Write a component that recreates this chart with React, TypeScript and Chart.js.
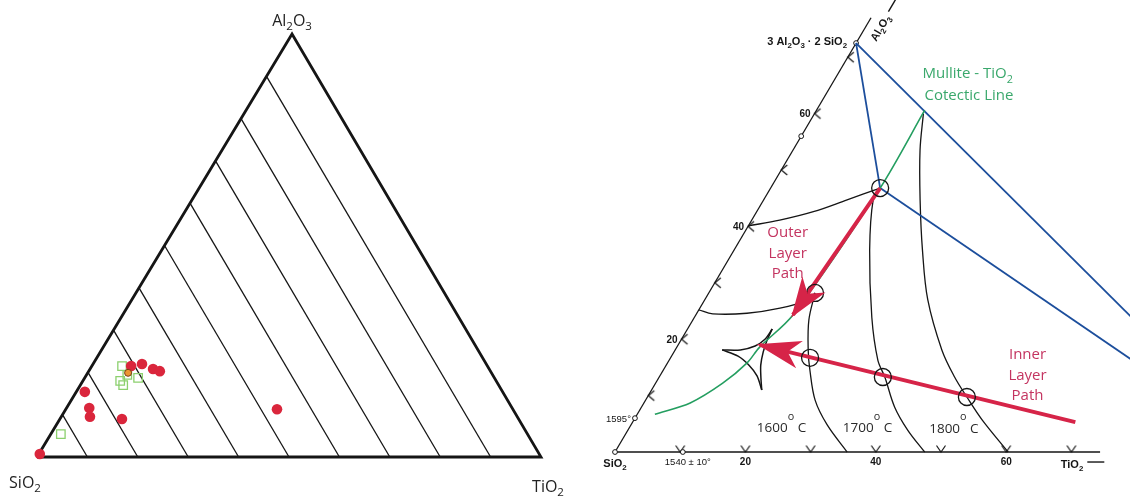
import React, { useEffect, useRef } from "react";
import { Chart, registerables } from "chart.js";

Chart.register(...registerables);

// ================= LEFT: SiO2 – TiO2 – Al2O3 ternary (wt%) =================
const LEFT_SKEW = 0.506;
const outlineAl2O3 = [0, 0, 100, 0];
const outlineTiO2 = [0, 100, 0, 0];
const hatchSiO2Levels = [90, 80, 70, 60, 50, 40, 30, 20, 10];
const redAl2O3 = [0.7, 15.4, 11.6, 9.5, 9.0, 11.3, 21.5, 22.0, 20.8, 20.3];
const redTiO2 = [0.2, 1.7, 4.5, 5.7, 12.3, 41.9, 7.8, 9.7, 12.5, 14.1];
const greenAl2O3 = [5.4, 21.5, 18.0, 17.0, 18.7, 19.4];
const greenTiO2 = [2.0, 6.0, 7.4, 8.5, 10.6, 8.1];
const orangeAl2O3 = [19.9];
const orangeTiO2 = [8.0];

// ================= RIGHT: Al2O3–SiO2–TiO2 phase diagram =================
const RIGHT_SKEW = 0.51;
const leftEdgeAl2O3 = [0, 77];
const leftEdgeTiO2 = [0, 0];
const baseEdgeAl2O3 = [0, 0];
const baseEdgeTiO2 = [0, 74.4];
const tickLevels = [10, 20, 30, 40, 50, 60, 70];
const tickLabelLevels = [20, 40, 60];
const tickLabels = ["20", "40", "60"];
const markerAl2O3 = [0, 0, 6, 56, 72.5];
const markerTiO2 = [0, 10.4, 0, 0, 0];

const joinMulliteTiO2Al2O3 = [72.5, 0];
const joinMulliteTiO2TiO2 = [0, 100];
const joinMullitePtAl2O3 = [72.5, 46.8];
const joinMullitePtTiO2 = [0, 16.8];
const joinPtTiO2Al2O3 = [46.8, 0];
const joinPtTiO2TiO2 = [16.8, 100];

const cotecticAl2O3 = [60.6, 46.8, 24.3, 18.6, 15.8, 12.2, 8.7, 6.7];
const cotecticTiO2 = [16.6, 16.8, 14.9, 12.7, 12.2, 10.3, 7.1, 2.7];

const boundaryUpperAl2O3 = [40.1, 41.1, 42.6, 44.7, 46.8];
const boundaryUpperTiO2 = [0, 4.3, 8.7, 12.8, 16.8];
const boundaryLowerAl2O3 = [25.2, 24.5, 24.6, 25.5, 26.9, 28.2];
const boundaryLowerTiO2 = [0, 2.5, 7.7, 12.3, 15.7, 16.3];

const iso1600Al2O3 = [28.2, 23.4, 18.1, 14.5, 9.2, 4.8, 0];
const iso1600TiO2 = [16.3, 17.8, 20.4, 22.5, 26.0, 30.1, 35.6];
const iso1700Al2O3 = [46.8, 44.7, 35.8, 23.9, 16.3, 13.3, 8.0, 3.9, 0];
const iso1700TiO2 = [16.8, 16.8, 20.8, 27.2, 32.0, 34.6, 38.8, 42.9, 47.5];
const iso1800Al2O3 = [60.0, 53.5, 44.7, 35.8, 27.0, 18.1, 13.3, 9.75, 5.7, 0];
const iso1800TiO2 = [16.7, 19.5, 24.0, 28.9, 34.2, 40.9, 45.3, 49.0, 53.4, 60.3];

const cuspUpperAl2O3 = [18.1, 18.1, 18.8, 20.0, 21.8];
const cuspUpperTiO2 = [7.2, 10.0, 11.9, 12.8, 13.0];
const cuspRightAl2O3 = [21.8, 19.9, 17.7, 15.4, 13.1, 11.0];
const cuspRightTiO2 = [13.0, 13.2, 13.7, 14.5, 15.7, 16.9];
const cuspLowerAl2O3 = [18.1, 17.0, 15.4, 13.5, 11.0];
const cuspLowerTiO2 = [7.2, 10.2, 12.7, 14.9, 16.9];

const outerPathAl2O3 = [46.8, 24.3];
const outerPathTiO2 = [16.8, 14.9];
const innerPathAl2O3 = [5.3, 19.0];
const innerPathTiO2 = [67.9, 12.5];

const circledAl2O3 = [46.8, 28.2, 16.7, 13.3, 9.75];
const circledTiO2 = [16.8, 16.3, 21.4, 34.3, 49.0];

const isoLabels = ["1600", "1700", "1800"];
const isoLabelAl2O3 = [4.4, 4.4, 4.3];
const isoLabelTiO2 = [19.5, 32.7, 46.0];

const outerLabelLines = ["Outer", "Layer", "Path"];
const outerLabelAt = [39.0, 6.6];
const innerLabelLines = ["Inner", "Layer", "Path"];
const innerLabelAt = [17.4, 54.4];
const cotecticLabelAt = [67.2, 12.9];

// ---------------------------------------------------------------------------
const RED = "rgb(218,38,60)";
const CRIMSON = "rgb(214,36,72)";
const PATH_TEXT = "rgb(196,52,96)";
const BLUE = "rgb(28,78,156)";
const GREEN = "rgb(36,158,96)";
const GREEN_TEXT = "rgb(58,168,108)";
const INK = "#151515";

const toXY = (skew: number, al: number[], ti: number[]) =>
  al.map((a, i) => ({ x: ti[i] + skew * a, y: a }));

type Seg = [string, ("sub" | "sup")?];
function rich(
  ctx: CanvasRenderingContext2D,
  segs: Seg[],
  x: number,
  cy: number,
  o: { size: number; family: string; weight?: string; color: string; align?: "left" | "center" | "right" }
) {
  const weight = o.weight || "normal";
  const fontOf = (k?: string) =>
    `${weight} ${k === "sub" ? o.size * 0.72 : k === "sup" ? o.size * 0.8 : o.size}px ${o.family}`;
  let w = 0;
  for (const [t, k] of segs) {
    ctx.font = fontOf(k);
    w += ctx.measureText(t).width;
  }
  const align = o.align || "center";
  let x0 = align === "left" ? x : align === "right" ? x - w : x - w / 2;
  const base = cy + o.size * 0.36;
  ctx.fillStyle = o.color;
  ctx.textAlign = "left";
  ctx.textBaseline = "alphabetic";
  for (const [t, k] of segs) {
    ctx.font = fontOf(k);
    const dy = k === "sub" ? o.size * 0.28 : k === "sup" ? -o.size * 0.9 : 0;
    ctx.fillText(t, x0, base + dy);
    x0 += ctx.measureText(t).width;
  }
  return w;
}

const SANS = "'Open Sans', 'Noto Sans', sans-serif";
const HAND = "'Liberation Sans', Arial, sans-serif";

function chevron(kind: "left" | "down") {
  const c = document.createElement("canvas");
  c.width = 16;
  c.height = 16;
  const g = c.getContext("2d")!;
  g.strokeStyle = INK;
  g.lineWidth = 1.2;
  g.beginPath();
  if (kind === "left") {
    g.moveTo(14, 3);
    g.lineTo(8, 8);
    g.lineTo(14, 13);
  } else {
    g.moveTo(3.5, 1.5);
    g.lineTo(8, 8);
    g.lineTo(12.5, 1.5);
  }
  g.stroke();
  return c;
}

const lineDs = (data: any[], color: string, width: number, tension = 0, extra: any = {}) => ({
  data,
  showLine: true,
  borderColor: color,
  borderWidth: width,
  pointRadius: 0,
  tension,
  fill: false,
  clip: false,
  ...extra,
});

const baseOptions = (xmin: number, xmax: number, ymin: number, ymax: number) => ({
  animation: false,
  responsive: false,
  events: [],
  layout: { padding: 0, autoPadding: false },
  plugins: { legend: { display: false }, tooltip: { enabled: false } },
  scales: {
    x: { type: "linear", display: false, min: xmin, max: xmax },
    y: { type: "linear", display: false, min: ymin, max: ymax },
  },
});

function leftConfig(): any {
  const datasets: any[] = [];
  datasets.push({
    data: toXY(LEFT_SKEW, orangeAl2O3, orangeTiO2),
    pointStyle: "circle",
    pointRadius: 3.5,
    backgroundColor: "rgb(236,150,50)",
    borderColor: "rgb(120,60,20)",
    borderWidth: 1,
    clip: false,
  });
  datasets.push({
    data: toXY(LEFT_SKEW, redAl2O3, redTiO2),
    pointStyle: "circle",
    pointRadius: 5.3,
    backgroundColor: RED,
    borderColor: RED,
    borderWidth: 0,
    clip: false,
  });
  datasets.push({
    data: toXY(LEFT_SKEW, greenAl2O3, greenTiO2),
    pointStyle: "rect",
    pointRadius: 6,
    backgroundColor: "rgba(255,255,255,0)",
    borderColor: "rgb(140,208,110)",
    borderWidth: 1.3,
    clip: false,
  });
  datasets.push(
    lineDs(toXY(LEFT_SKEW, outlineAl2O3, outlineTiO2), INK, 2.8, 0, { borderJoinStyle: "miter" })
  );
  for (const s of hatchSiO2Levels) {
    datasets.push(lineDs(toXY(LEFT_SKEW, [0, 100 - s], [100 - s, 0]), INK, 1.3));
  }
  const plugin = {
    id: "leftLabels",
    afterDatasetsDraw(chart: any) {
      const ctx = chart.ctx as CanvasRenderingContext2D;
      const xs = chart.scales.x, ys = chart.scales.y;
      const P = (al: number, ti: number) => ({
        x: xs.getPixelForValue(ti + LEFT_SKEW * al),
        y: ys.getPixelForValue(al),
      });
      ctx.save();
      const opt = { size: 16, family: SANS, color: "#222" };
      const top = P(100, 0), si = P(0, 0), ti = P(0, 100);
      rich(ctx, [["Al"], ["2", "sub"], ["O"], ["3", "sub"]], top.x, top.y - 14, opt);
      rich(ctx, [["SiO"], ["2", "sub"]], si.x - 12, si.y + 25, opt);
      rich(ctx, [["TiO"], ["2", "sub"]], ti.x + 7, ti.y + 29, opt);
      ctx.restore();
    },
  };
  return {
    type: "scatter",
    data: { datasets },
    options: baseOptions(-7.34, 104.76, -9.93, 108.04),
    plugins: [plugin],
  };
}

function arrowHead(ctx: CanvasRenderingContext2D, from: any, tip: any, len: number, half: number) {
  const dx = tip.x - from.x, dy = tip.y - from.y;
  const d = Math.hypot(dx, dy);
  const ux = dx / d, uy = dy / d;
  const tx = tip.x + ux * 3, ty = tip.y + uy * 3;
  const bx = tx - ux * len, by = ty - uy * len;
  const nx = -uy, ny = ux;
  const mx = tx - ux * len * 0.72, my = ty - uy * len * 0.72;
  ctx.beginPath();
  ctx.moveTo(tx, ty);
  ctx.lineTo(bx + nx * half, by + ny * half);
  ctx.lineTo(mx, my);
  ctx.lineTo(bx - nx * half, by - ny * half);
  ctx.closePath();
  ctx.fillStyle = CRIMSON;
  ctx.fill();
}

function rightConfig(): any {
  const chevLeft = chevron("left");
  const chevDown = chevron("down");
  const R = (al: number[], ti: number[]) => toXY(RIGHT_SKEW, al, ti);
  const datasets: any[] = [];
  // top-most first
  datasets.push({
    data: R(circledAl2O3, circledTiO2),
    pointStyle: "circle",
    pointRadius: 8.5,
    backgroundColor: "rgba(0,0,0,0)",
    borderColor: INK,
    borderWidth: 1.3,
    clip: false,
  });
  datasets.push(lineDs(R(innerPathAl2O3, innerPathTiO2), CRIMSON, 4));
  datasets.push(lineDs(R(outerPathAl2O3, outerPathTiO2), CRIMSON, 4));
  datasets.push(lineDs(R(cotecticAl2O3, cotecticTiO2), GREEN, 1.6, 0.3));
  datasets.push(lineDs(R(joinMulliteTiO2Al2O3, joinMulliteTiO2TiO2), BLUE, 1.8));
  datasets.push(lineDs(R(joinMullitePtAl2O3, joinMullitePtTiO2), BLUE, 1.8));
  datasets.push(lineDs(R(joinPtTiO2Al2O3, joinPtTiO2TiO2), BLUE, 1.8));
  datasets.push(lineDs(R(boundaryUpperAl2O3, boundaryUpperTiO2), INK, 1.3, 0.35));
  datasets.push(lineDs(R(boundaryLowerAl2O3, boundaryLowerTiO2), INK, 1.3, 0.35));
  datasets.push(lineDs(R(iso1600Al2O3, iso1600TiO2), INK, 1.3, 0.35));
  datasets.push(lineDs(R(iso1700Al2O3, iso1700TiO2), INK, 1.3, 0.35));
  datasets.push(lineDs(R(iso1800Al2O3, iso1800TiO2), INK, 1.3, 0.35));
  datasets.push(lineDs(R(cuspUpperAl2O3, cuspUpperTiO2), INK, 1.5, 0.3));
  datasets.push(lineDs(R(cuspRightAl2O3, cuspRightTiO2), INK, 1.5, 0.3));
  datasets.push(lineDs(R(cuspLowerAl2O3, cuspLowerTiO2), INK, 1.5, 0.3));
  datasets.push({
    data: R(markerAl2O3, markerTiO2),
    pointStyle: "circle",
    pointRadius: 2.4,
    backgroundColor: "#fff",
    borderColor: INK,
    borderWidth: 1,
    clip: false,
  });
  datasets.push({
    data: R(tickLevels, tickLevels.map(() => 0)),
    pointStyle: chevLeft,
    pointRadius: 3,
    clip: false,
  });
  datasets.push({
    data: R(tickLevels.map(() => 0), tickLevels),
    pointStyle: chevDown,
    pointRadius: 3,
    clip: false,
  });
  datasets.push(lineDs(R(leftEdgeAl2O3, leftEdgeTiO2), INK, 1.3));
  datasets.push(lineDs(R(baseEdgeAl2O3, baseEdgeTiO2), INK, 1.5));

  const plugin = {
    id: "rightOverlay",
    afterDatasetsDraw(chart: any) {
      const ctx = chart.ctx as CanvasRenderingContext2D;
      const xs = chart.scales.x, ys = chart.scales.y;
      const P = (al: number, ti: number) => ({
        x: xs.getPixelForValue(ti + RIGHT_SKEW * al),
        y: ys.getPixelForValue(al),
      });
      ctx.save();
      // arrowheads
      arrowHead(ctx, P(outerPathAl2O3[0], outerPathTiO2[0]), P(outerPathAl2O3[1], outerPathTiO2[1]), 40, 14);
      arrowHead(ctx, P(innerPathAl2O3[0], innerPathTiO2[0]), P(innerPathAl2O3[1], innerPathTiO2[1]), 44, 14);

      const axisFont = { size: 10.5, family: HAND, weight: "bold", color: INK };
      // base axis labels
      tickLabelLevels.forEach((v, i) => {
        const p = P(0, v);
        rich(ctx, [[tickLabels[i]]], p.x, p.y + 9.5, { ...axisFont, size: 10 });
      });
      const sp = P(0, 0);
      rich(ctx, [["SiO"], ["2", "sub"]], sp.x, sp.y + 11, { ...axisFont, size: 11 });
      const ep = P(0, markerTiO2[1]);
      rich(ctx, [["1540 ± 10°"]], ep.x + 5, ep.y + 9.5, { ...axisFont, size: 9.5, weight: "normal" });
      const tp = P(0, 70.1);
      const tw = rich(ctx, [["TiO"], ["2", "sub"]], tp.x, tp.y + 12, { ...axisFont, size: 11 });
      ctx.strokeStyle = INK;
      ctx.lineWidth = 1.4;
      ctx.beginPath();
      ctx.moveTo(tp.x + tw / 2 + 4, tp.y + 10);
      ctx.lineTo(tp.x + tw / 2 + 21, tp.y + 10);
      ctx.stroke();
      // left axis labels
      tickLabelLevels.forEach((v, i) => {
        const p = P(v, 0);
        rich(ctx, [[tickLabels[i]]], p.x - 4, p.y, { ...axisFont, size: 10, align: "right" });
      });
      const ep2 = P(markerAl2O3[2], 0);
      rich(ctx, [["1595°"]], ep2.x - 4, ep2.y, { ...axisFont, size: 9.5, weight: "normal", align: "right" });
      const mp = P(markerAl2O3[4], 0);
      rich(
        ctx,
        [["3 Al"], ["2", "sub"], ["O"], ["3", "sub"], [" · 2 SiO"], ["2", "sub"]],
        mp.x - 9,
        mp.y - 2,
        { ...axisFont, size: 11, align: "right" }
      );
      // rotated Al2O3 label
      const a0 = P(0, 0), a1 = P(leftEdgeAl2O3[1], 0);
      const ang = Math.atan2(a1.y - a0.y, a1.x - a0.x);
      const rp = P(75.2, 2.3);
      ctx.save();
      ctx.translate(rp.x, rp.y);
      ctx.rotate(ang);
      const rw = rich(ctx, [["Al"], ["2", "sub"], ["O"], ["3", "sub"]], 0, 0, { ...axisFont, size: 11 });
      ctx.strokeStyle = INK;
      ctx.lineWidth = 1.4;
      ctx.beginPath();
      ctx.moveTo(rw / 2 + 4, -1);
      ctx.lineTo(rw / 2 + 24, -1);
      ctx.stroke();
      ctx.restore();

      // cotectic label
      const cp = P(cotecticLabelAt[0], cotecticLabelAt[1]);
      const gOpt = { size: 15, family: SANS, color: GREEN_TEXT, align: "left" as const };
      rich(ctx, [["Mullite - TiO"], ["2", "sub"]], cp.x, cp.y, gOpt);
      rich(ctx, [["Cotectic Line"]], cp.x + 2, cp.y + 22, gOpt);

      // path labels
      const pOpt = { size: 15, family: SANS, color: PATH_TEXT };
      const op = P(outerLabelAt[0], outerLabelAt[1]);
      outerLabelLines.forEach((t, i) => rich(ctx, [[t]], op.x, op.y + i * 20.5, pOpt));
      const ip = P(innerLabelAt[0], innerLabelAt[1]);
      innerLabelLines.forEach((t, i) => rich(ctx, [[t]], ip.x, ip.y + i * 20.5, pOpt));

      // isotherm labels
      isoLabels.forEach((t, i) => {
        const p = P(isoLabelAl2O3[i], isoLabelTiO2[i]);
        rich(ctx, [[t], ["o", "sup"], [" C"]], p.x, p.y, {
          size: 13.5,
          family: SANS,
          color: "#2a2a2a",
          align: "left",
        });
      });
      ctx.restore();
    },
  };

  return {
    type: "scatter",
    data: { datasets },
    options: baseOptions(-7.67, 78.99, -8.33, 80.14),
    plugins: [plugin],
  };
}

export default function App() {
  const leftRef = useRef<HTMLCanvasElement>(null);
  const rightRef = useRef<HTMLCanvasElement>(null);
  useEffect(() => {
    const c1 = new Chart(leftRef.current!, leftConfig());
    const c2 = new Chart(rightRef.current!, rightConfig());
    return () => {
      c1.destroy();
      c2.destroy();
    };
  }, []);
  return (
    <div
      style={{
        position: "absolute",
        left: 0,
        top: 0,
        width: 1130,
        height: 499,
        background: "#fff",
        overflow: "hidden",
      }}
    >
      <canvas ref={leftRef} width={565} height={499} style={{ position: "absolute", left: 0, top: 0 }} />
      <canvas ref={rightRef} width={565} height={499} style={{ position: "absolute", left: 565, top: 0 }} />
    </div>
  );
}
